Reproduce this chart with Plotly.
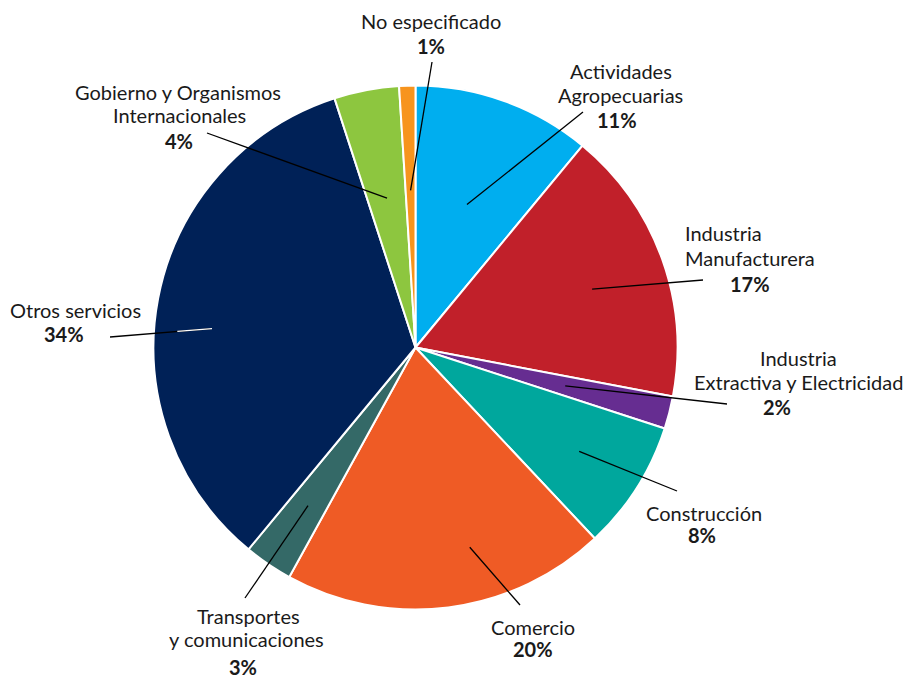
import math
import plotly.graph_objects as go

# Share of employment by economic sector (%), clockwise from 12 o'clock
sectors = [
    "Actividades Agropecuarias",
    "Industria Manufacturera",
    "Industria Extractiva y Electricidad",
    "Construcción",
    "Comercio",
    "Transportes y comunicaciones",
    "Otros servicios",
    "Gobierno y Organismos Internacionales",
    "No especificado",
]
shares = [11, 17, 2, 8, 20, 3, 34, 4, 1]
colors = ["#00AEEF", "#C1202A", "#662D91", "#00A79D", "#EF5B25",
          "#346967", "#002157", "#8DC63F", "#F7941D"]

# Label text lines (the bold percentage line is appended from `shares`)
label_lines = [
    ["Actividades", "Agropecuarias"],
    ["Industria", "Manufacturera"],
    ["Industria", "Extractiva y Electricidad"],
    ["Construcción"],
    ["Comercio"],
    ["Transportes", "y comunicaciones"],
    ["Otros servicios"],
    ["Gobierno y Organismos", "Internacionales"],
    ["No especificado"],
]

# ---- layout helpers (pixel positions on a 906x679 canvas) ----
W, H = 906, 679
CX, CY, R = 415.5, 347.5, 262.0


def px(x, y):
    return x / W, 1 - y / H


# Label line centres in pixels: one (x, y) per text line, last is the percentage
label_pos = [
    [(621, 71), (620, 95), (617, 120)],
    [(723, 233), (750, 258), (750, 284)],
    [(798, 358), (798, 382), (777, 407)],
    [(704, 513), (702, 535)],
    [(533, 627), (533, 649)],
    [(248, 616), (246, 639), (243, 667)],
    [(75, 310), (64, 334)],
    [(178, 92), (179, 115), (179, 141)],
    [(431, 21), (431, 46)],
]
# Leader lines: outer end (pixels), inner radius fraction and angle nudge (deg)
leader_outer = [(583, 112), (703, 280), (727, 404), (677, 491), (520, 605),
                (245, 598), (110, 337), (207, 133), (432, 62)]
leader_frac = [0.58, 0.71, 0.59, 0.74, 0.79, 0.73, 0.78, 0.58, 0.60]
leader_nudge = [0, 1.5, 0, 0, -8, 0, -5.5, 0, 0]
leader_white = [0, 0, 0, 0, 0, 0, 0.34, 0, 0]

fig = go.Figure()
fig.add_trace(go.Pie(
    labels=sectors,
    values=shares,
    sort=False,
    direction="clockwise",
    rotation=0,
    marker=dict(colors=colors, line=dict(color="white", width=2)),
    textinfo="none",
    hoverinfo="label+percent",
    showlegend=False,
    domain=dict(x=[(CX - R) / W, (CX + R) / W],
                y=[1 - (CY + R) / H, 1 - (CY - R) / H]),
))

font_family = "Lato, 'Open Sans', sans-serif"
annotations = []
shapes = []
total = sum(shares)
cum = 0.0
for i, v in enumerate(shares):
    start = cum / total * 360
    cum += v
    end = cum / total * 360
    mid = math.radians((start + end) / 2 + leader_nudge[i])
    r_in = R * leader_frac[i]
    ix = CX + r_in * math.sin(mid)
    iy = CY - r_in * math.cos(mid)
    ox, oy = leader_outer[i]

    x0, y0 = px(ox, oy)
    x1, y1 = px(ix, iy)
    shapes.append(dict(type="line", xref="paper", yref="paper",
                       x0=x0, y0=y0, x1=x1, y1=y1,
                       line=dict(color="black", width=1.3)))
    if leader_white[i] > 0:
        f = leader_white[i]
        wx, wy = px(ix + (ox - ix) * f, iy + (oy - iy) * f)
        shapes.append(dict(type="line", xref="paper", yref="paper",
                           x0=x1, y0=y1, x1=wx, y1=wy,
                           line=dict(color="white", width=1.3)))

    lines = label_lines[i] + [f"<b>{v}%</b>"]
    for text, (lx, ly) in zip(lines, label_pos[i]):
        ax, ay = px(lx, ly)
        annotations.append(dict(
            text=text, x=ax, y=ay, xref="paper", yref="paper",
            xanchor="center", yanchor="middle", showarrow=False,
            font=dict(family=font_family, size=20, color="#1a1a1a"),
        ))

fig.update_layout(
    width=W, height=H,
    margin=dict(l=0, r=0, t=0, b=0),
    paper_bgcolor="white",
    plot_bgcolor="white",
    annotations=annotations,
    shapes=shapes,
)

fig.write_html("out.html")
